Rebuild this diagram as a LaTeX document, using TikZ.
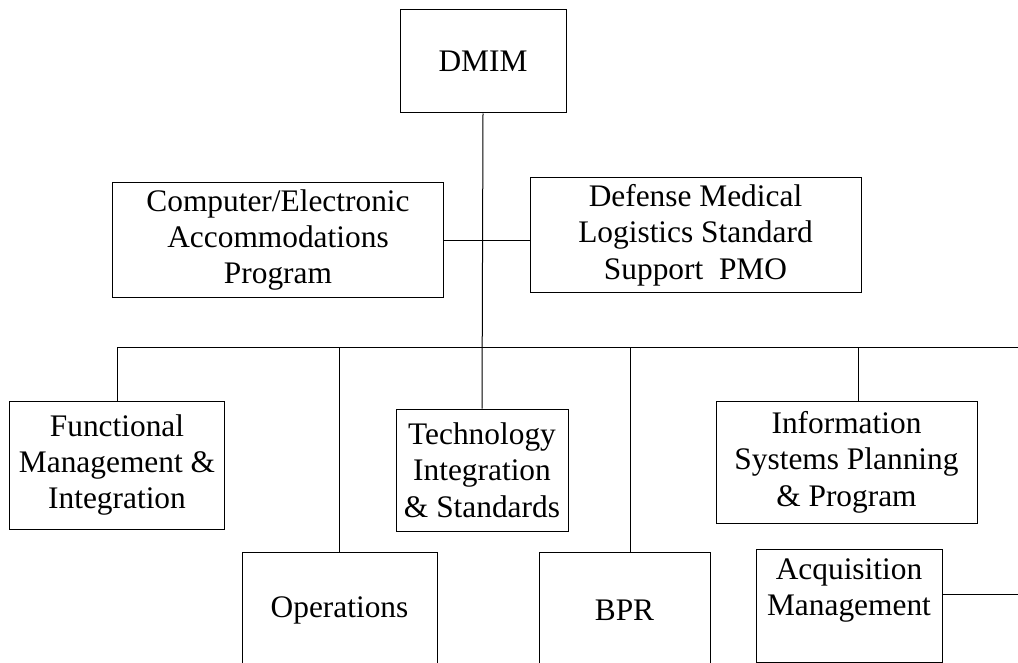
\documentclass[tikz,border=0pt]{standalone}
\usepackage{fontspec}
\setmainfont{Liberation Serif}
\begin{document}
\begin{tikzpicture}[x=1bp,y=-1bp,
  box/.style={draw, line width=1bp, align=center, inner sep=0pt,
    font=\fontsize{31.5}{36.5}\selectfont},
  conn/.style={line width=1bp}]
\useasboundingbox (0,0) rectangle (1018,663);
\clip (0,0) rectangle (1018,663);
\node[box, minimum width=166bp, minimum height=103bp] (dmim) at (483,61.5) {DMIM};
\node[box, minimum width=330bp, minimum height=114bp] (cea) at (278,240) {Computer/Electronic\\Accommodations\\Program};
\node[box, minimum width=331bp, minimum height=114bp] (dml) at (695.5,235) {Defense Medical\\Logistics Standard\\Support\ \ PMO};
\node[box, minimum width=214bp, minimum height=128bp] (fmi) at (117,465) {Functional\\Management \&\\Integration};
\node[box, minimum width=172bp, minimum height=122bp] (tech) at (482,470) {Technology\\Integration\\\& Standards};
\node[box, minimum width=261bp, minimum height=122bp] (isp) at (846.5,462) {Information\\Systems Planning\\\& Program};
\node[box, minimum width=195bp, minimum height=116bp] (ops) at (339.5,610) {Operations};
\node[box, minimum width=171bp, minimum height=116bp] (bpr) at (624.5,610) {BPR};
\node[box, minimum width=186bp, minimum height=113bp] (acq) at (849,605.5) {Acquisition\\Management\\\mbox{}};
\coordinate (bus) at (483,347);
\coordinate (busR) at (1018,347);
\coordinate (acqR) at (1018,594);
\draw[conn] (dmim.south) -- (tech.north);
\draw[conn] (cea.east) -- (cea.east -| dml.west);
\draw[conn] (fmi.north) |- (busR);
\draw[conn] (ops.north) -- (ops.north |- bus);
\draw[conn] (bpr.north -| 630,0) -- (630,347);
\draw[conn] (isp.north -| 858,0) -- (858,347);
\draw[conn] (acq.east |- acqR) -- (acqR);
\end{tikzpicture}
\end{document}
